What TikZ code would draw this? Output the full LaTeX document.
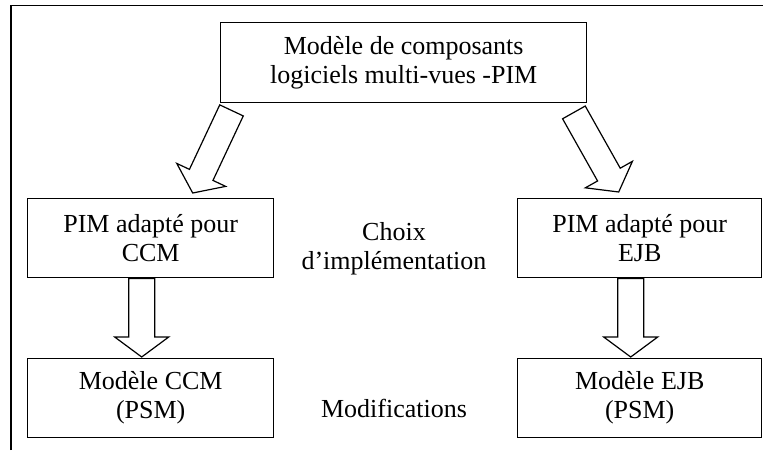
\documentclass[tikz,border=0pt]{standalone}
\usepackage{fontspec}
\setmainfont{Liberation Serif}
\usetikzlibrary{calc}
\tikzset{
  box/.style={draw, line width=1.4pt, inner sep=0pt, anchor=north west, align=center,
    font=\fontsize{26}{29}\selectfont},
  lbl/.style={inner sep=0pt, align=center, font=\fontsize{26}{29}\selectfont},
  fatarrow/.style={draw, line width=1.2pt, line join=miter, fill=white},
  frameline/.style={line width=1.8pt}
}
\newcommand\bigarrow[2]{%
  \coordinate (hb) at ($(#2)!20pt!(#1)$);
  \path[fatarrow] ($(#1)!13pt!90:(#2)$) -- ($(hb)!13pt!90:(#2)$) -- ($(hb)!27pt!90:(#2)$)
    -- (#2) -- ($(hb)!27pt!-90:(#2)$) -- ($(hb)!13pt!-90:(#2)$) -- ($(#1)!13pt!-90:(#2)$) -- cycle;
}
\begin{document}
\begin{tikzpicture}[x=1pt,y=-1pt]
\useasboundingbox (0,0) rectangle (767,450);
\coordinate (fa) at (11,450);
\coordinate (fb) at (11,5.5);
\coordinate (fc) at (763,5.5);
\draw[frameline] (fa) -- (fb) -- (fc);

\node[box, minimum width=366pt, minimum height=80pt] (top) at (220,22) {Modèle de composants\\logiciels multi-vues -PIM};
\node[box, minimum width=246pt, minimum height=79pt] (pimccm) at (27,198) {PIM adapté pour\\CCM};
\node[box, minimum width=244pt, minimum height=79pt] (pimejb) at (517,198) {PIM adapté pour\\EJB};
\node[box, minimum width=246pt, minimum height=79pt] (psmccm) at (27,358) {Modèle CCM\\(PSM)};
\node[box, minimum width=244pt, minimum height=79pt] (psmejb) at (517,358) {Modèle EJB\\(PSM)};

\node[lbl] (choix) at (394,249) {Choix\\d’implémentation};
\node[lbl, anchor=base] (modif) at (394,417) {Modifications};

\coordinate (a1s) at ($(top.south west)+(11.5,7)$);
\coordinate (a1e) at ($(pimccm.north)+(42,-5)$);
\coordinate (a2s) at ($(top.south east)+(-13.5,9)$);
\coordinate (a2e) at ($(pimejb.north)+(-21,-6)$);
\coordinate (a3s) at ($(pimccm.south)+(-9,0)$);
\coordinate (a3e) at ($(psmccm.north)+(-9,-1)$);
\coordinate (a4s) at ($(pimejb.south)+(-9,0)$);
\coordinate (a4e) at ($(psmejb.north)+(-9,-1)$);
\bigarrow{a1s}{a1e}
\bigarrow{a2s}{a2e}
\bigarrow{a3s}{a3e}
\bigarrow{a4s}{a4e}
\end{tikzpicture}
\end{document}
